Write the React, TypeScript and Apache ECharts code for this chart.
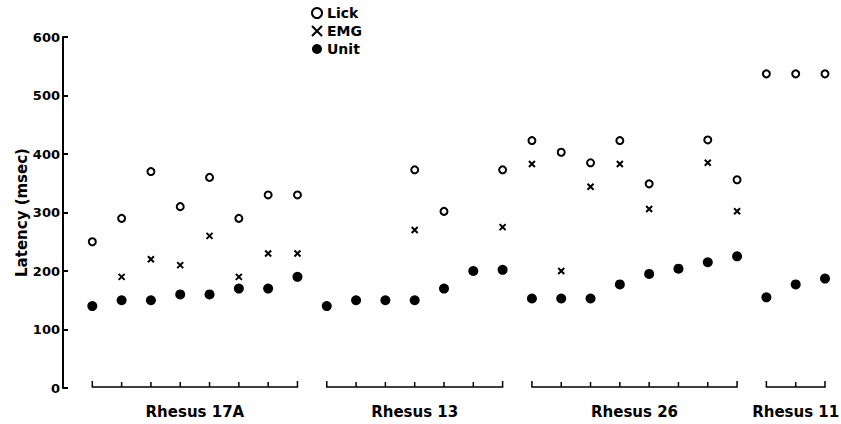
import React, { useEffect, useRef } from "react";
import * as echarts from "echarts";

const groupNames = ["Rhesus 17A", "Rhesus 13", "Rhesus 26", "Rhesus 11"];
const groupSizes = [8, 7, 8, 3];

const lick: (number | null)[] = [
  250, 290, 370, 310, 360, 290, 330, 330,
  null, null, null, 373, 302, null, 373,
  423, 403, 385, 423, 349, null, 424, 356,
  537, 537, 537,
];
const emg: (number | null)[] = [
  null, 190, 220, 210, 260, 190, 230, 230,
  null, null, null, 270, null, null, 275,
  383, 200, 344, 383, 306, null, 385, 302,
  null, null, null,
];
const unit: number[] = [
  140, 150, 150, 160, 160, 170, 170, 190,
  140, 150, 150, 150, 170, 200, 202,
  153, 153, 153, 177, 195, 204, 215, 225,
  155, 177, 187,
];

const yTicks = [0, 100, 200, 300, 400, 500, 600];

const FONT = "DejaVu Sans";

function toPairs(arr: (number | null)[]) {
  const out: [number, number][] = [];
  arr.forEach((v, i) => {
    if (v !== null && v !== undefined) out.push([i, v]);
  });
  return out;
}

export default function App() {
  const ref = useRef<HTMLDivElement>(null);
  useEffect(() => {
    if (!ref.current) return;
    const chart = echarts.init(ref.current, undefined, { renderer: "svg" });

    const groups: [number, number][] = [];
    let s = 0;
    groupSizes.forEach((n) => {
      groups.push([s, s + n - 1]);
      s += n;
    });

    const option: any = {
      animation: false,
      backgroundColor: "#fff",
      grid: {
        left: 63,
        right: 16,
        top: 37,
        bottom: 36,
        containLabel: false,
        outerBoundsMode: "none",
      },
      legend: {
        orient: "vertical",
        left: 306,
        top: 1,
        itemWidth: 10,
        itemHeight: 10,
        itemGap: 4,
        textStyle: { fontFamily: FONT, fontSize: 14, fontWeight: "bold", color: "#000" },
        data: ["Lick", "EMG", "Unit"],
      },
      xAxis: {
        type: "value",
        min: -1,
        max: 25,
        show: false,
      },
      yAxis: {
        type: "value",
        min: yTicks[0],
        max: yTicks[yTicks.length - 1],
        interval: 100,
        name: "Latency (msec)",
        nameLocation: "middle",
        nameRotate: 90,
        nameGap: 34,
        nameMoveOverlap: false,
        nameTextStyle: { fontFamily: FONT, fontSize: 15, fontWeight: "bold", color: "#000" },
        axisLine: { show: true, onZero: false, lineStyle: { color: "#000", width: 2 } },
        axisTick: { show: true, inside: true, length: 5, lineStyle: { color: "#000", width: 2 } },
        axisLabel: { margin: 3, fontFamily: FONT, fontSize: 13, fontWeight: "bold", color: "#000" },
        splitLine: { show: false },
      },
      series: [
        {
          name: "Lick",
          type: "scatter",
          symbol: "emptyCircle",
          symbolSize: 7,
          itemStyle: { color: "#000", borderColor: "#000", borderWidth: 2, opacity: 1 },
          data: toPairs(lick),
          z: 3,
        },
        {
          name: "EMG",
          type: "scatter",
          symbol: "path://M0,0L10,10M10,0L0,10",
          symbolSize: 6,
          itemStyle: { color: "#000", borderColor: "#000", borderWidth: 2, opacity: 1 },
          data: toPairs(emg),
          z: 3,
        },
        {
          name: "Unit",
          type: "scatter",
          symbol: "circle",
          symbolSize: 10,
          itemStyle: { color: "#000", opacity: 1 },
          data: toPairs(unit),
          z: 3,
        },
        {
          name: "groups",
          type: "custom",
          clip: false,
          silent: true,
          encode: { x: [0, 1], y: 2 },
          data: groups.map((g) => [g[0], g[1], 0]),
          renderItem: (params: any, api: any) => {
            const a = api.value(0);
            const b = api.value(1);
            const p0 = api.coord([a, 0]);
            const p1 = api.coord([b, 0]);
            const y = p0[1] - 1;
            const children: any[] = [
              {
                type: "polyline",
                shape: {
                  points: [
                    [p0[0], y - 6],
                    [p0[0], y],
                    [p1[0], y],
                    [p1[0], y - 6],
                  ],
                },
                style: { stroke: "#000", lineWidth: 1.5, fill: null },
              },
            ];
            for (let i = a + 1; i < b; i++) {
              const p = api.coord([i, 0]);
              children.push({
                type: "line",
                shape: { x1: p[0], y1: y, x2: p[0], y2: y - 5 },
                style: { stroke: "#000", lineWidth: 1.5 },
              });
            }
            children.push({
              type: "text",
              x: (p0[0] + p1[0]) / 2,
              y: y + 25,
              style: {
                text: groupNames[params.dataIndex],
                fontFamily: FONT,
                fontSize: 15,
                fontWeight: "bold",
                fill: "#000",
                align: "center",
                verticalAlign: "middle",
              },
            });
            return { type: "group", children };
          },
        },
      ],
    };
    chart.setOption(option);
    return () => chart.dispose();
  }, []);
  return (
    <div
      ref={ref}
      style={{ position: "fixed", left: 0, top: 0, width: 841, height: 424 }}
    />
  );
}
